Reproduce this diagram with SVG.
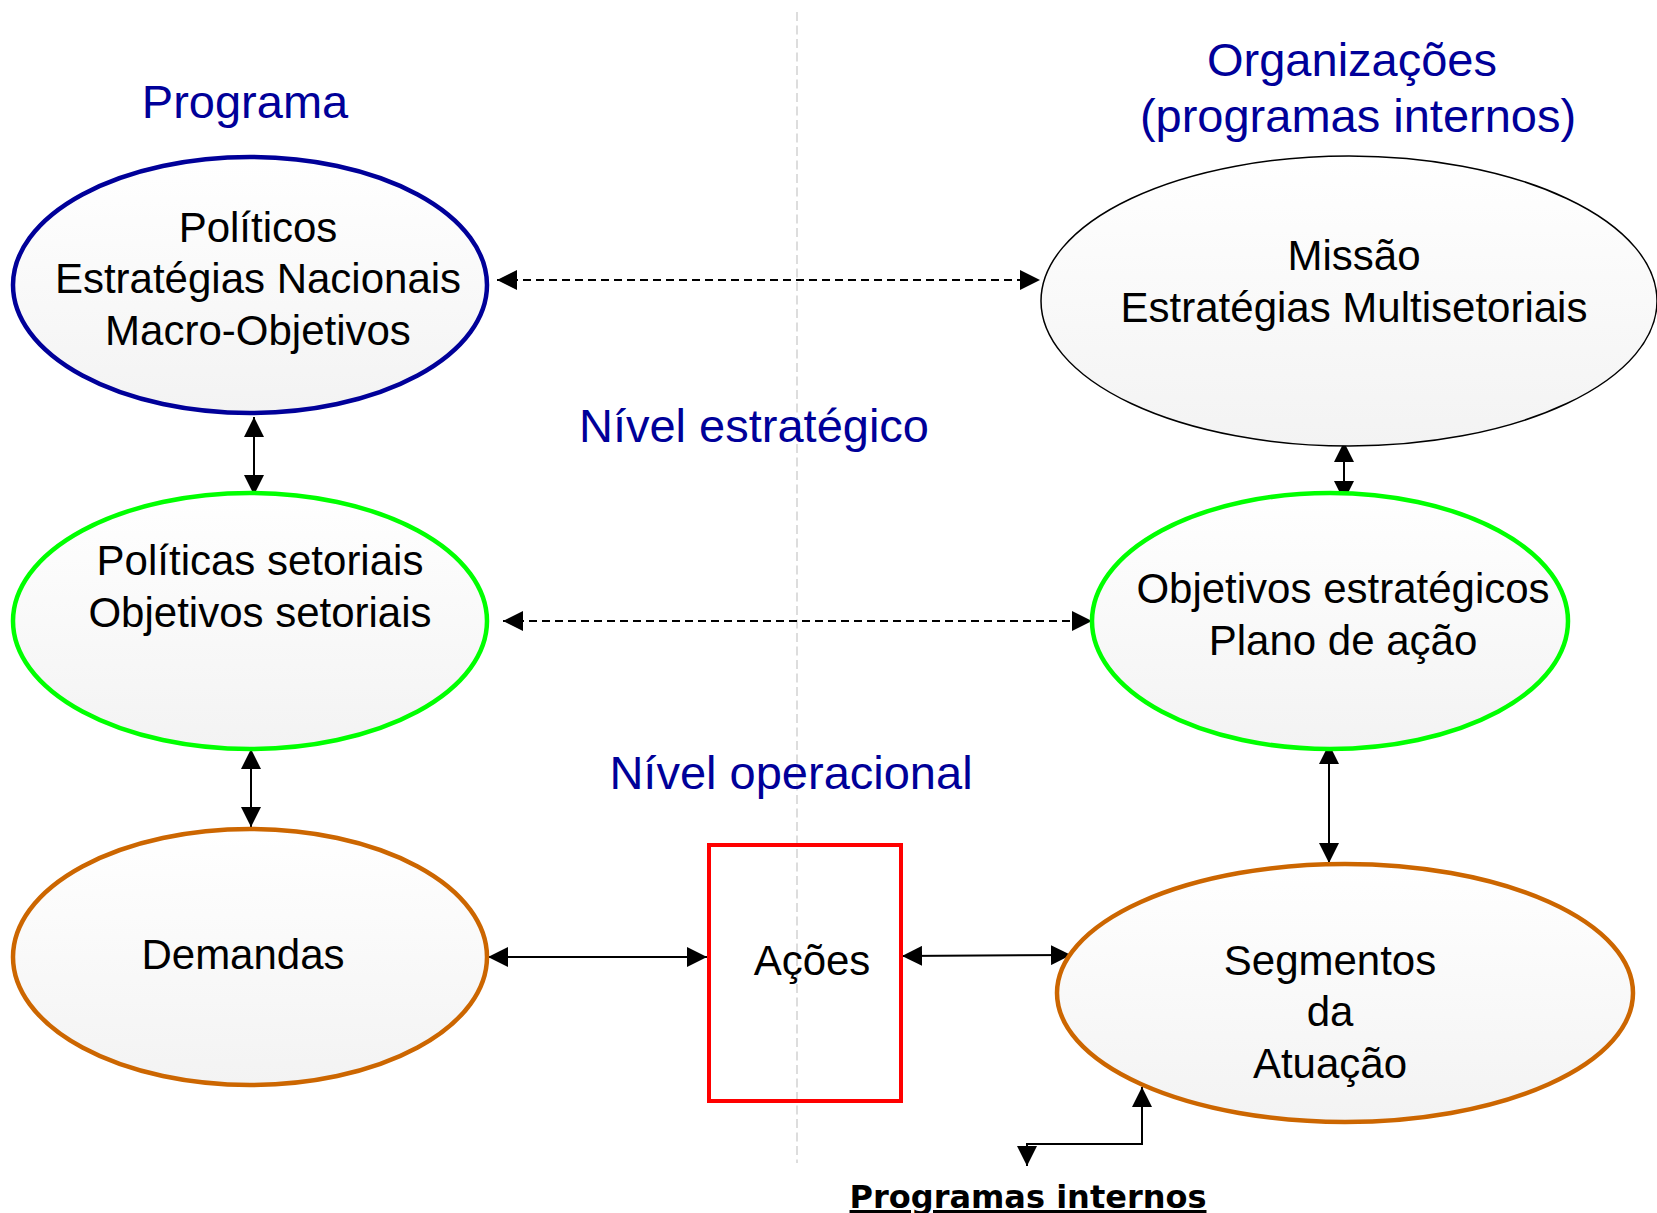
<svg xmlns="http://www.w3.org/2000/svg" width="1657" height="1213" viewBox="0 0 1657 1213">
<defs>
<linearGradient id="fillg" x1="0" y1="0" x2="0" y2="1">
<stop offset="0" stop-color="#ffffff"/>
<stop offset="1" stop-color="#f3f3f3"/>
</linearGradient>
<marker id="ah" viewBox="0 0 20 20" refX="20" refY="10" markerWidth="20" markerHeight="20" markerUnits="userSpaceOnUse" orient="auto-start-reverse">
<path d="M0,0 L20,10 L0,20 z" fill="#000"/>
</marker>
</defs>
<style>
.node{fill:url(#fillg);}
.lbl{font-family:"Liberation Sans",Arial,sans-serif;font-size:42px;fill:#000;text-anchor:middle;}
.hdr{font-family:"Liberation Sans",Arial,sans-serif;font-size:47px;fill:#000099;text-anchor:middle;}
.conn{stroke:#000;stroke-width:2;fill:none;}
.dash{stroke-dasharray:8 5;}
.bi{marker-start:url(#ah);marker-end:url(#ah);}
</style>
<rect width="1657" height="1213" fill="#fff"/>
<line x1="797" y1="12" x2="797" y2="1163" stroke="#dddddd" stroke-width="2" stroke-dasharray="9 4.5"/>

<g id="headers">
<text class="hdr" x="245" y="118">Programa</text>
<text class="hdr" x="1352" y="76">Organizações</text>
<text class="hdr" x="1358" y="132">(programas internos)</text>
<text class="hdr" x="754" y="442">Nível estratégico</text>
<text class="hdr" x="791" y="789">Nível operacional</text>
</g>

<g id="connectors">
<line class="conn dash bi" x1="497" y1="280" x2="1040" y2="280"/>
<line class="conn dash bi" x1="503" y1="621" x2="1092" y2="621"/>
<line class="conn bi" x1="254" y1="417" x2="254" y2="495"/>
<line class="conn bi" x1="251" y1="749" x2="251" y2="827"/>
<line class="conn bi" x1="1344" y1="442" x2="1344" y2="501"/>
<line class="conn bi" x1="1329" y1="744" x2="1329" y2="863"/>
<line class="conn bi" x1="488" y1="957" x2="707" y2="957"/>
<line class="conn bi" x1="902" y1="956" x2="1071" y2="955"/>
<path class="conn" d="M1142,1087 L1142,1144 L1027,1144 L1027,1166" marker-start="url(#ah)" marker-end="url(#ah)"/>
</g>

<g id="n-politicos">
<ellipse class="node" cx="250" cy="285" rx="237" ry="128" stroke="#000099" stroke-width="4.5"/>
<text class="lbl" x="258" y="242">Políticos</text>
<text class="lbl" x="258" y="293">Estratégias Nacionais</text>
<text class="lbl" x="258" y="345">Macro-Objetivos</text>
</g>

<g id="n-politicas">
<ellipse class="node" cx="250" cy="621" rx="237" ry="128" stroke="#00ff00" stroke-width="4.5"/>
<text class="lbl" x="260" y="575">Políticas setoriais</text>
<text class="lbl" x="260" y="627">Objetivos setoriais</text>
</g>

<g id="n-demandas">
<ellipse class="node" cx="250" cy="957" rx="237" ry="128" stroke="#cc6600" stroke-width="4.5"/>
<text class="lbl" x="243" y="969">Demandas</text>
</g>

<g id="n-missao">
<ellipse class="node" cx="1349" cy="301" rx="308" ry="145" stroke="#000" stroke-width="1.5"/>
<text class="lbl" x="1354" y="270">Missão</text>
<text class="lbl" x="1354" y="322">Estratégias Multisetoriais</text>
</g>

<g id="n-objetivos">
<ellipse class="node" cx="1330" cy="621" rx="238" ry="128" stroke="#00ff00" stroke-width="4.5"/>
<text class="lbl" x="1343" y="603">Objetivos estratégicos</text>
<text class="lbl" x="1343" y="655">Plano de ação</text>
</g>

<g id="n-segmentos">
<ellipse class="node" cx="1345" cy="993" rx="288" ry="129" stroke="#cc6600" stroke-width="4.5"/>
<text class="lbl" x="1330" y="975">Segmentos</text>
<text class="lbl" x="1330" y="1026">da</text>
<text class="lbl" x="1330" y="1078">Atuação</text>
</g>

<g id="n-acoes">
<rect x="709" y="845" width="192" height="256" fill="none" stroke="#ff0000" stroke-width="4"/>
<text class="lbl" x="812" y="975">Ações</text>
</g>

<g id="n-programas-internos">
<text x="1028" y="1208" font-family="'DejaVu Sans',Verdana,sans-serif" font-size="32" font-weight="bold" text-anchor="middle" text-decoration="underline" fill="#000">Programas internos</text>
</g>
</svg>
